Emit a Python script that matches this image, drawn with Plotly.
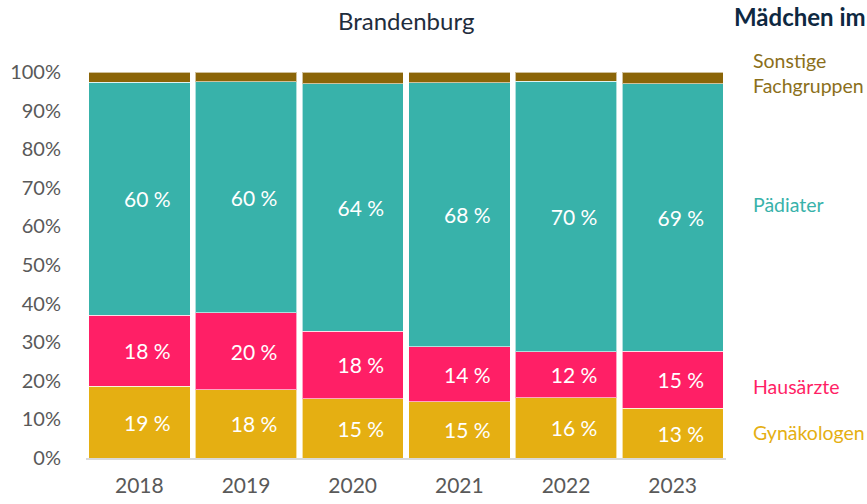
import plotly.graph_objects as go

years = ["2018", "2019", "2020", "2021", "2022", "2023"]
gynaekologen = [18.6, 17.7, 15.3, 14.6, 15.6, 12.9]
hausaerzte = [18.4, 19.9, 17.6, 14.2, 11.9, 14.8]
paediater = [60.4, 59.9, 64.0, 68.4, 70.1, 69.3]
sonstige = [2.6, 2.5, 3.1, 2.8, 2.4, 3.0]

series = [
    ("Gynäkologen", gynaekologen, "#E5AF12", True),
    ("Hausärzte", hausaerzte, "#FF1F66", True),
    ("Pädiater", paediater, "#38B2AA", True),
    ("Sonstige Fachgruppen", sonstige, "#8B6508", False),
]

FONT = "Lato"
fig = go.Figure()
for name, vals, color, show in series:
    fig.add_trace(go.Bar(
        x=years, y=vals, name=name,
        marker=dict(color=color, line=dict(color="rgba(255,255,255,0.6)", width=1)),
        texttemplate="\u00a0\u00a0\u00a0%{y:.0f}\u00a0%" if show else "",
        textposition="inside" if show else "none",
        insidetextanchor="middle",
        textfont=dict(color="white", size=21, family=FONT),
        showlegend=False,
    ))

fig.update_layout(
    barmode="stack",
    bargap=0.05,
    width=867, height=504,
    margin=dict(l=86, r=141, t=72, b=46),
    plot_bgcolor="white", paper_bgcolor="white",
    font=dict(family=FONT, color="#595959", size=20),
    uniformtext=dict(mode=False),
    xaxis=dict(showline=True, linecolor="#D9D9D9", linewidth=2, ticks="outside",
               ticklen=8, tickcolor="rgba(0,0,0,0)", automargin=False,
               tickfont=dict(size=21, color="#595959")),
    yaxis=dict(range=[0, 100], dtick=10, ticksuffix="%", showgrid=False, zeroline=False,
               ticks="outside", ticklen=20, tickcolor="rgba(0,0,0,0)", automargin=False,
               tickfont=dict(size=20, color="#595959")),
)

fig.add_annotation(text="Brandenburg", xref="paper", yref="paper", x=0.5, y=1.0,
                   yanchor="middle", yshift=52, showarrow=False,
                   font=dict(size=24, color="#1F2D3D", family=FONT))
fig.add_annotation(text="<b>Mädchen im</b>", xref="paper", yref="paper", x=1.0, xshift=6,
                   xanchor="left", y=1.0, yanchor="middle", yshift=56, showarrow=False,
                   font=dict(size=24, color="#0E2841", family=FONT))

legend_items = [
    ("Sonstige<br>Fachgruppen", "#8B6F1A", 0.997),
    ("Pädiater", "#38B2AA", 0.658),
    ("Hausärzte", "#FF1F66", 0.184),
    ("Gynäkologen", "#E5AF12", 0.067),
]
for txt, col, yy in legend_items:
    fig.add_annotation(text=txt, xref="paper", yref="paper", x=1.0, xshift=25, xanchor="left",
                       y=yy, yanchor="middle", showarrow=False, align="left",
                       font=dict(size=19.5, color=col, family=FONT))

fig.write_html("out.html", config={"displayModeBar": False})
with open("out.html", encoding="utf-8") as f:
    html = f.read()
html = html.replace("<body>", '<body style="margin:0;padding:0;overflow:hidden">', 1)
with open("out.html", "w", encoding="utf-8") as f:
    f.write(html)
